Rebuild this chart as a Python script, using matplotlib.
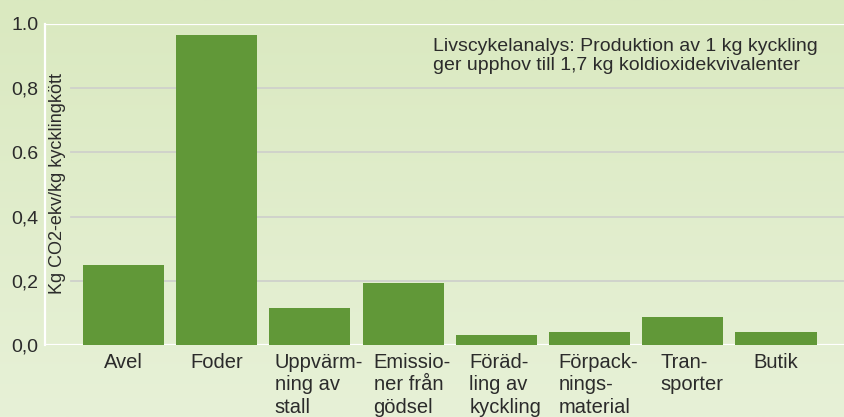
import numpy as np
import matplotlib
matplotlib.use('Agg')
import matplotlib.pyplot as plt
from matplotlib.colors import LinearSegmentedColormap
from matplotlib.transforms import ScaledTranslation

plt.rcParams['font.family'] = ['Liberation Sans', 'DejaVu Sans']

categories = ['Avel', 'Foder', 'Uppvärm-\nning av\nstall', 'Emissio-\nner från\ngödsel',
              'Föräd-\nling av\nkyckling', 'Förpack-\nnings-\nmaterial', 'Tran-\nsporter', 'Butik']
values = [0.25, 0.965, 0.115, 0.193, 0.031, 0.04, 0.087, 0.04]
yticks = [0.0, 0.2, 0.4, 0.6, 0.8, 1.0]
ytick_labels = ['0,0', '0,2', '0,4', '0.6', '0,8', '1.0']
grid_levels = [0.2, 0.4, 0.6, 0.8]

text_color = '#2b2b2b'
bar_color = '#619838'

W, H = 845, 417
fig = plt.figure(figsize=(W / 100, H / 100), dpi=100)

# background gradient, darker at the top
bg = fig.add_axes([0, 0, 1, 1], zorder=-1)
cmap = LinearSegmentedColormap.from_list('bg', ['#dae9c0', '#e7f1d7'])
bg.imshow(np.linspace(0, 1, 256).reshape(-1, 1), aspect='auto', cmap=cmap,
          extent=[0, 1, 0, 1])
bg.set_axis_off()

ax = fig.add_axes([45 / W, 72 / H, 800 / W, 321 / H])
ax.patch.set_visible(False)

x = np.arange(len(categories))
ax.bar(x, values, width=0.87, color=bar_color, zorder=3)

for v in grid_levels:
    ax.axhline(v, xmin=26 / 800, color='#cfd1cb', lw=1.3, zorder=1)
ax.axhline(0, color='white', lw=1.6, zorder=2)
ax.axhline(1.0, color='white', lw=1.6, zorder=2)

ax.set_xlim(-0.842, 7.74)
ax.set_ylim(0, 1.0)

for side in ['top', 'right', 'bottom']:
    ax.spines[side].set_visible(False)
ax.spines['left'].set_color('white')
ax.spines['left'].set_linewidth(1.6)

ax.set_yticks(yticks)
ax.set_yticklabels(ytick_labels)
ax.set_xticks(x)
ax.set_xticklabels(categories, ha='center', multialignment='left', linespacing=1.25)
ax.tick_params(axis='y', length=0, pad=4.5, labelsize=14, labelcolor=text_color)
ax.tick_params(axis='x', length=0, pad=5.5, labelsize=14.5, labelcolor=text_color)

# the wrapped labels sit a little to the right of the bar centre
shift = ScaledTranslation(6.5 / 72, 0, fig.dpi_scale_trans)
for lbl in ax.get_xticklabels():
    if '\n' in lbl.get_text():
        lbl.set_transform(lbl.get_transform() + shift)

fig.text(57 / W, 1 - 183 / H, 'Kg CO2-ekv/kg kycklingkött', rotation=90,
         ha='center', va='center', fontsize=13, color=text_color)

fig.text(433 / W, 1 - 38 / H,
         'Livscykelanalys: Produktion av 1 kg kyckling\nger upphov till 1,7 kg koldioxidekvivalenter',
         ha='left', va='top', fontsize=14, linespacing=1.12, color=text_color)

fig.savefig('out.png', dpi=100)
